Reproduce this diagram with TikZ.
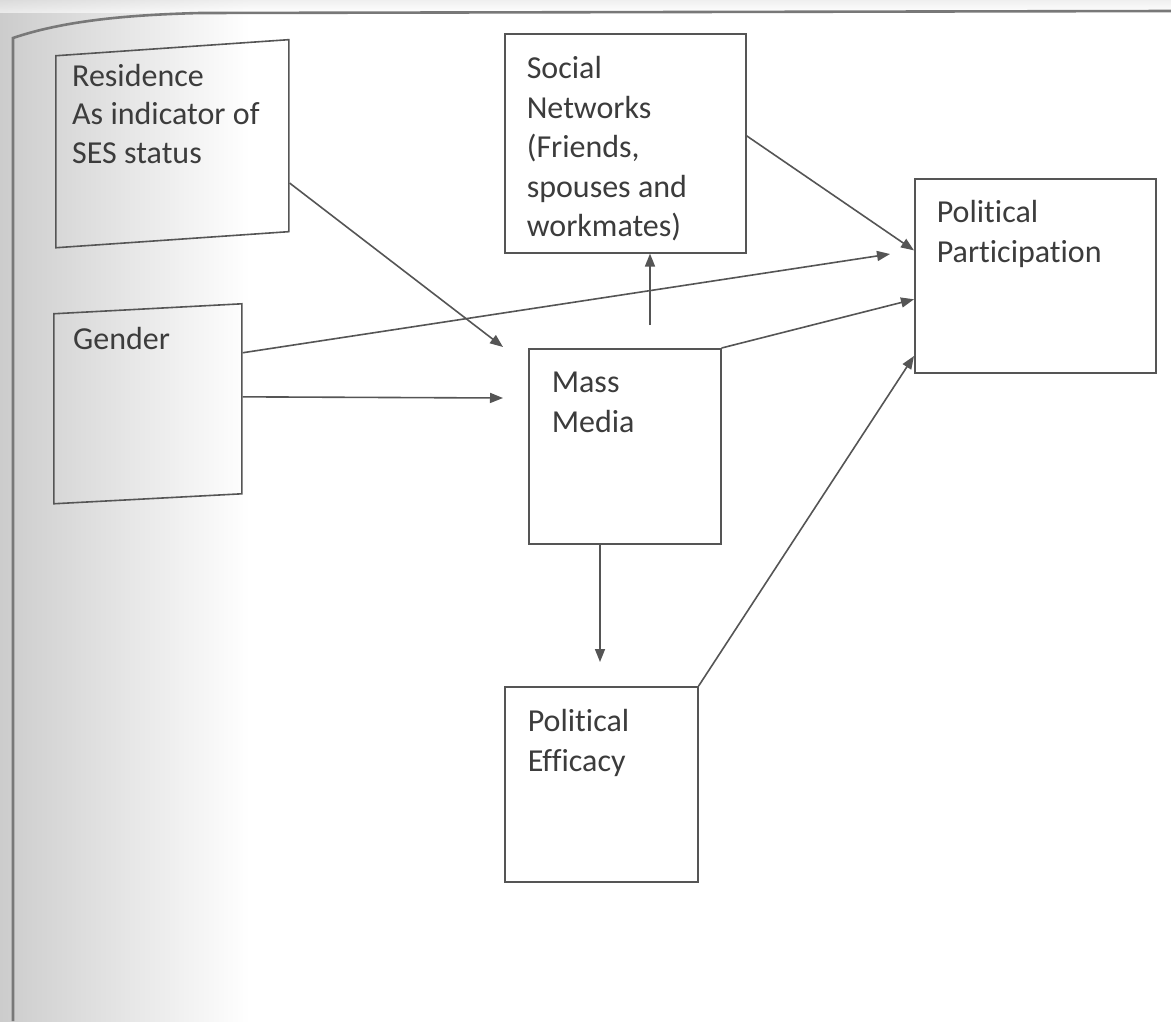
\documentclass[tikz,border=0pt]{standalone}
\usepackage{fontspec}
\setmainfont{Carlito}[Ligatures=NoCommon]
\usetikzlibrary{arrows.meta,calc}
\definecolor{linec}{RGB}{85,85,85}
\definecolor{txtc}{RGB}{60,60,60}
\definecolor{framec}{RGB}{120,120,120}
\begin{document}
\begin{tikzpicture}[x=1pt,y=-1pt,
  box/.style={draw=linec, line width=1.6pt, align=left, inner xsep=22pt, inner ysep=0pt,
    text height=44pt, anchor=north west, text=txtc,
    font=\fontsize{32}{39.5}\selectfont, execute at begin node={\spaceskip=0.23em\relax}},
  frm/.style={draw=linec, line width=1.6pt, anchor=north west, inner sep=0pt},
  txt/.style={align=left, anchor=north west, inner sep=0pt, text height=24pt, text=txtc,
    font=\fontsize{32}{38.5}\selectfont, execute at begin node={\spaceskip=0.23em\relax}},
  arr/.style={draw=linec, line width=1.6pt, -{Triangle[length=13pt,width=10pt]}}]
\useasboundingbox (0,0) rectangle (1171,1021);
\fill[white] (0,0) rectangle (1171,1021);
\shade[left color=black!20, middle color=black!7, right color=white] (0,0) rectangle (250,1021);
\shade[top color=black!10, bottom color=white, opacity=0.6] (0,0) rectangle (1171,12);
\draw[framec, line width=2.6pt] (13,1021) -- (13,38) .. controls (60,22) and (120,15) .. (200,13) -- (1171,11);

\node[frm, minimum width=233pt, minimum height=192pt, yslant=0.069] (res) at (55,55) {};
\node[txt, text width=205pt] (restext) at ($(res.north west)+(17,7)$) {Residence\\As indicator of\\SES status};
\node[box, text width=197pt, text height=45pt, text depth=174pt] (sn) at (504,33)
  {Social\\Networks\\(Friends,\\spouses and\\workmates)};
\node[box, text width=197pt, text depth=150pt] (pp) at (914,178)
  {Political\\Participation};
\node[frm, minimum width=188pt, minimum height=190pt, yslant=0.053] (gen) at (53,313) {};
\node[txt, text width=150pt] (gentext) at ($(gen.north west)+(20,12)$) {Gender};
\node[box, inner xsep=23pt, text width=146pt, text depth=151pt] (mm) at (528,348)
  {Mass\\Media};
\node[box, inner xsep=23pt, text width=147pt, text height=45pt, text depth=150pt] (pe) at (504,686)
  {Political\\Efficacy};

\draw[arr] ($(res.north east)!0.745!(res.south east)$) -- ($(mm.north west)+(-25,-1)$);
\draw[arr] ($(sn.north east)!0.466!(sn.south east)$) -- ($(pp.north west)!0.37!(pp.south west)$);
\draw[arr] ($(gen.north east)!0.26!(gen.south east)$) -- ($(pp.north west)+(-24,76)$);
\draw[arr] ($(gen.north east)!0.49!(gen.south east)$) -- ($(mm.north west)+(-25,50)$);
\draw[arr] ($(mm.north west)+(122,-23)$) -- ($(sn.south west)+(146,0)$);
\draw[arr] (mm.north east) -- ($(pp.north west)!0.62!(pp.south west)$);
\draw[arr] ($(mm.south west)+(72,0)$) -- ($(pe.north west)+(96,-24)$);
\draw[arr] (pe.north east) -- ($(pp.north west)!0.91!(pp.south west)$);
\end{tikzpicture}
\end{document}
